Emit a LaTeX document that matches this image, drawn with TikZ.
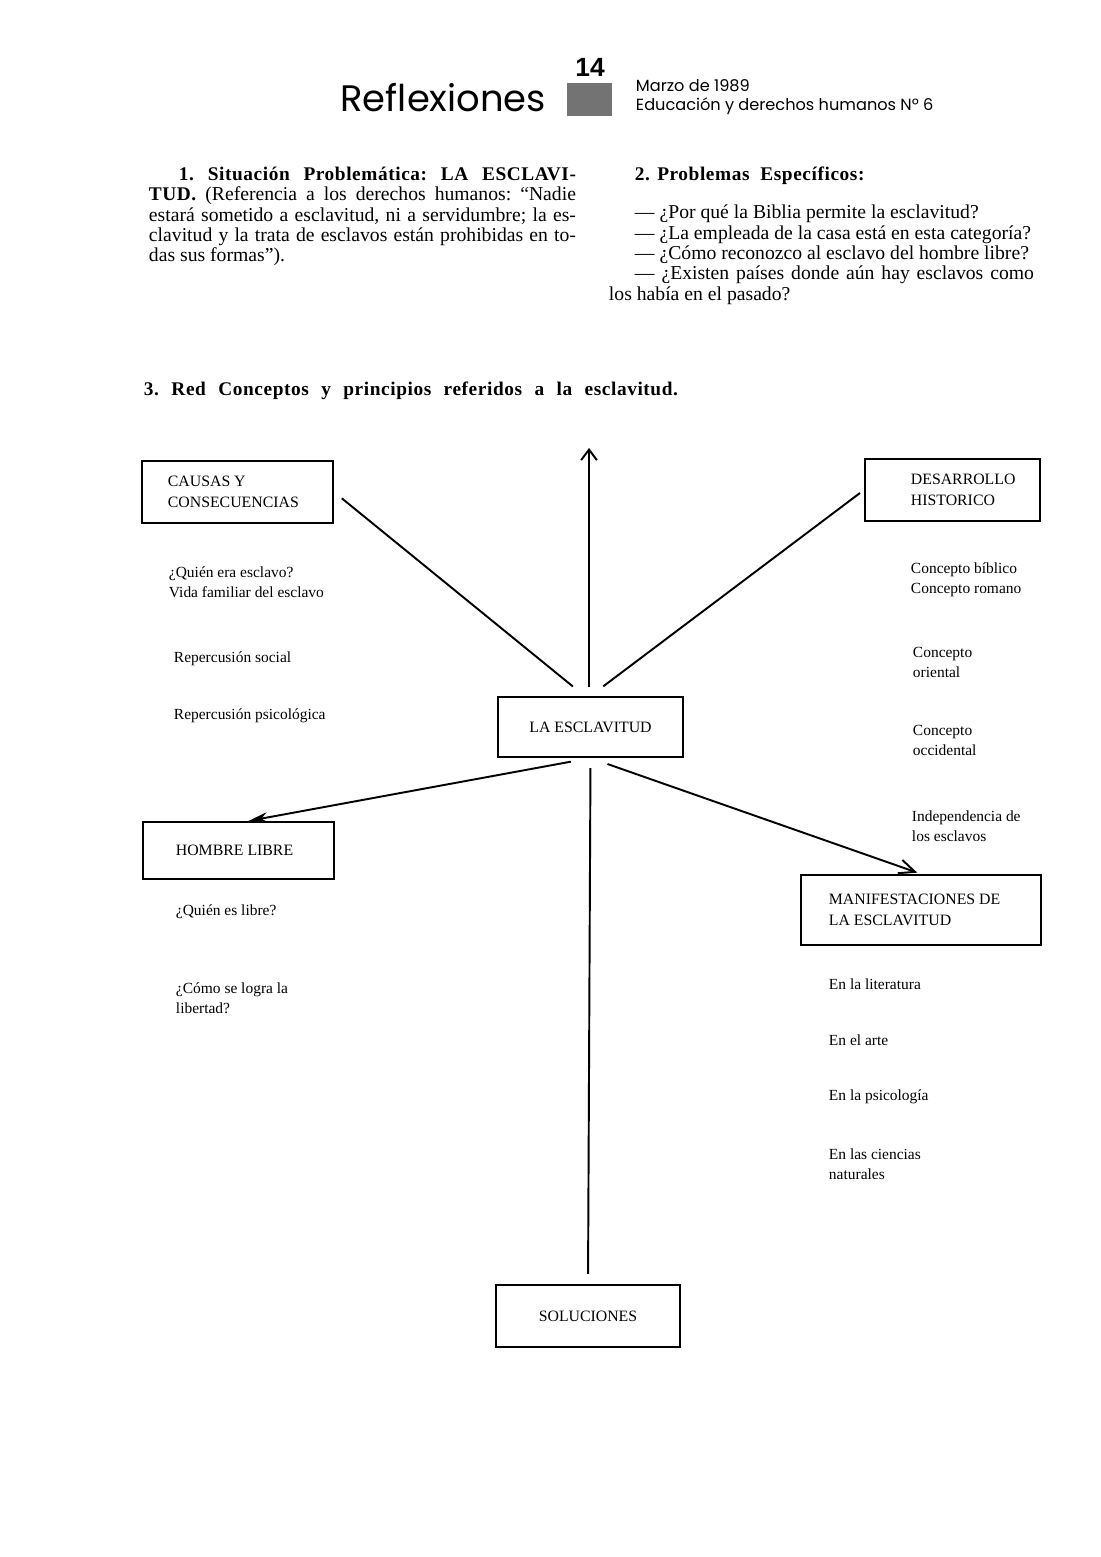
\documentclass[tikz,border=0pt]{standalone}
\usepackage{fontspec}
\setmainfont{Liberation Serif}
\newfontfamily\headfont{Poppins}
\newfontfamily\numfont{Liberation Sans}
\newfontfamily\spacedfont{Liberation Serif}[LetterSpace=3]
\usetikzlibrary{arrows.meta,positioning,calc}
\newdimen\px \px=0.02cm

\begin{document}
\begin{tikzpicture}[
  x=\px,y=-\px,line width=1.1pt,
  box/.style={draw,line width=1.2pt,inner sep=0pt,align=center,font=\fontsize{9}{12}\selectfont},
  boxtxt/.style={anchor=west,align=left,inner sep=0pt,font=\fontsize{9}{12}\selectfont},
  item/.style={anchor=west,align=left,inner sep=0pt,font=\fontsize{8.8}{11.4}\selectfont},
  body/.style={anchor=north west,inner sep=0pt,text width=427\px,align=justify,font=\fontsize{11.2}{11.6}\selectfont\frenchspacing},
  hd/.style={inner sep=0pt,font=\fontsize{11}{13}\spacedfont\bfseries}]
\useasboundingbox (0,0) rectangle (1100,1557);
% page head
\node[anchor=base east,inner sep=0pt,font=\fontsize{21}{24}\headfont] (head) at (547,112) {Reflexiones};
\node[anchor=base,inner sep=0pt,font=\fontsize{15}{17}\numfont\bfseries] (page) at (590,77) {14};
\fill[black!55] (567,83) rectangle (612,116);
\node[anchor=base west,inner sep=0pt,align=left,font=\fontsize{9.2}{11}\headfont] (date) at (635,92) {Marzo de 1989};
\node[anchor=base west,inner sep=0pt,align=left,font=\fontsize{9.2}{11}\headfont] (issue) at (635,111) {Educación y derechos humanos Nº 6};
% text columns
\node[body] (sit) at (148,166) {\hspace*{30\px}{\spacedfont\bfseries\fontsize{11}{11.6}\selectfont 1. Situación Problemática: LA ESCLAVI-}\linebreak
{\spacedfont\bfseries\fontsize{11}{11.6}\selectfont TUD.} (Referencia a los derechos humanos: “Nadie\linebreak
estará sometido a esclavitud, ni a servidumbre; la es-\linebreak
clavitud y la trata de esclavos están prohibidas en to-\linebreak
das sus formas”).};
\node[hd,anchor=north west] (prob) at (634,166) {2. Problemas\ \ Específicos:};
\node[body,text width=425\px] (qs) at (608,204) {\hspace*{26\px}— ¿Por qué la Biblia permite la esclavitud?\\
\hspace*{26\px}— ¿La empleada de la casa está en esta categoría?\\
\hspace*{26\px}— ¿Cómo reconozco al esclavo del hombre libre?\\
\hspace*{26\px}— ¿Existen países donde aún hay esclavos como\linebreak
los había en el pasado?};
\node[hd,anchor=base west] (red) at (143,396) {\frenchspacing\makebox[534\px][s]{3. Red Conceptos y principios referidos a la esclavitud.}};
% boxes
\node[box,minimum width=191\px,minimum height=62\px] (causas) at (237.5,492) {};
\node[boxtxt] (causas-t) at ($(causas.west)+(26,0)$) {CAUSAS Y\\CONSECUENCIAS};
\node[box,minimum width=175\px,minimum height=62\px] (hist) at (952.5,490) {};
\node[boxtxt] (hist-t) at ($(hist.west)+(46,0)$) {DESARROLLO\\HISTORICO};
\node[box,minimum width=185\px,minimum height=60\px] (cent) at (590.5,727) {LA ESCLAVITUD};
\node[box,minimum width=191\px,minimum height=57\px] (hombre) at (238.5,850.5) {};
\node[boxtxt] (hombre-t) at ($(hombre.west)+(33,0)$) {HOMBRE LIBRE};
\node[box,minimum width=240\px,minimum height=70\px] (manif) at (921,910) {};
\node[boxtxt] (manif-t) at ($(manif.west)+(28,0)$) {MANIFESTACIONES DE\\LA ESCLAVITUD};
\node[box,minimum width=184\px,minimum height=62\px] (sol) at (588,1316) {SOLUCIONES};
% items
\node[item] (c1) at (168,582) {¿Quién era esclavo?\\Vida familiar del esclavo};
\node[item] (c2) at (173,659) {Repercusión social};
\node[item] (c3) at (173,716) {Repercusión psicológica};
\node[item] (h1) at (910,580) {Concepto bíblico\\Concepto romano};
\node[item] (h2) at (912,662) {Concepto\\oriental};
\node[item] (h3) at (912,740) {Concepto\\occidental};
\node[item] (h4) at (911,826) {Independencia de\\los esclavos};
\node[item] (l1) at (175,912) {¿Quién es libre?};
\node[item] (l2) at (175,998) {¿Cómo se logra la\\libertad?};
\node[item] (m1) at (828,984) {En la literatura};
\node[item] (m2) at (828,1040) {En el arte};
\node[item] (m3) at (828,1097) {En la psicología};
\node[item] (m4) at (828,1164) {En las ciencias\\naturales};
% connectors
\coordinate (tip) at (589,448);
\draw[-{Straight Barb[length=6pt,width=9pt]},shorten <=9\px] (tip |- cent.north) -- (tip);
\draw[shorten <=10\px,shorten >=15\px] (causas.east) -- ($(cent.north)+(-6,0)$);
\draw[shorten <=5\px,shorten >=16\px] (hist.west) -- (cent.north);
\draw[-{Stealth[length=11pt,width=6pt]},shorten <=20\px] (cent.south) -- ($(hombre.north)+(10,0)$);
\draw[-{Straight Barb[length=9pt,width=8pt]},shorten <=18\px,shorten >=4\px] (cent.south) -- (manif.north);
\draw[shorten <=10\px,shorten >=10\px] (cent.south) -- (sol.north);
\end{tikzpicture}
\end{document}
